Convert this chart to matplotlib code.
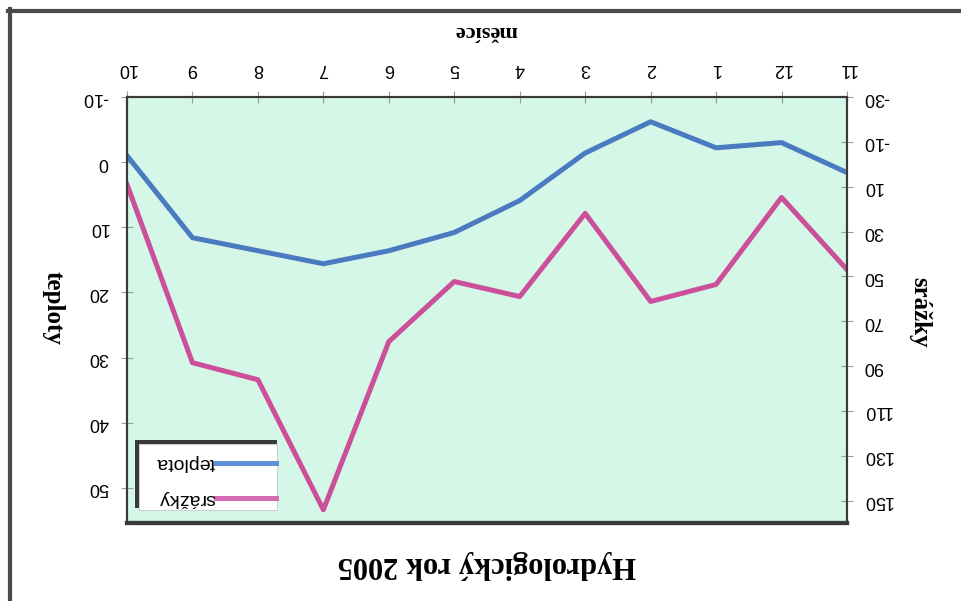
import matplotlib
matplotlib.use("Agg")
import matplotlib.pyplot as plt
from matplotlib.lines import Line2D
from matplotlib.patches import Rectangle

plt.rcParams['axes.unicode_minus'] = False
plt.rcParams['font.family'] = ['Liberation Sans', 'DejaVu Sans']

# hydrologický rok: listopad 2004 .. říjen 2005
mesice = ['11', '12', '1', '2', '3', '4', '5', '6', '7', '8', '9', '10']
teplota = [1.6, -3.0, -2.2, -6.2, -1.4, 5.9, 10.8, 13.6, 15.6, 13.6, 11.6, -1.0]
srazky = [47.0, 14.8, 53.6, 61.2, 21.9, 59.0, 52.3, 79.1, 154.1, 96.1, 88.5, 9.0]

teploty_ticks = [-10, 0, 10, 20, 30, 40, 50]
srazky_ticks = [-30, -10, 10, 30, 50, 70, 90, 110, 130, 150]

BLUE = '#4a7bc0'
PINK = '#cc4f9a'
SERIF = ['Liberation Serif', 'DejaVu Serif']

fig = plt.figure(figsize=(9.61, 6.01), dpi=100)
ax = fig.add_axes([127 / 961, 1 - 523 / 601, 720 / 961, 426 / 601])
ax2 = ax.twinx()

x = list(range(len(mesice)))
ax.plot(x, teplota, color=BLUE, lw=3.6, solid_joinstyle='round')
ax2.plot(x, srazky, color=PINK, lw=3.6, solid_joinstyle='round')

# the whole chart is drawn turned upside down
ax.set_xlim(len(mesice) - 1, 0)
ax.set_ylim(55.4, -10)
ax2.set_ylim(160, -30)

ax.set_xticks(x)
ax.set_xticklabels(mesice)
ax.set_yticks(teploty_ticks)
ax2.set_yticks(srazky_ticks)

ax.set_facecolor('#d4f7e8')
ax.tick_params(axis='x', top=True, bottom=False, labeltop=True, labelbottom=False,
               direction='inout', length=9, color='#9a9a9a', labelsize=13, pad=10)
ax.tick_params(axis='y', direction='inout', length=9, color='#9a9a9a', labelsize=13, pad=9)
ax2.tick_params(axis='y', direction='inout', length=9, color='#9a9a9a', labelsize=13, pad=7)
plt.setp(ax.get_xticklabels(), rotation=180)
plt.setp(ax.get_yticklabels(), rotation=180, va='center')
plt.setp(ax2.get_yticklabels(), rotation=180, va='center')

for a in (ax, ax2):
    for s in a.spines.values():
        s.set_color('#3a3a3a')
        s.set_linewidth(1.5)
    a.spines['bottom'].set_linewidth(3)

# legend box with its shadow on the upper left
def px(xp, yp):
    return (xp - 127) / 720, (523 - yp) / 426

lx0, ly0 = px(139, 510)
lx1, ly1 = px(277, 444)
ax2.add_patch(Rectangle((lx0, ly0), lx1 - lx0, ly1 - ly0, transform=ax2.transAxes,
                        facecolor='white', edgecolor='#d0d0d0', lw=0.8, zorder=5))
sx0, sy0 = px(135, 508)
ax2.add_patch(Rectangle((sx0, sy0), lx0 - sx0, ly1 - sy0, transform=ax2.transAxes,
                        facecolor='#3a3a3a', edgecolor='none', zorder=6))
tx, ty = px(135, 440)
ax2.add_patch(Rectangle((tx, ly1), lx1 - tx, ty - ly1, transform=ax2.transAxes,
                        facecolor='#3a3a3a', edgecolor='none', zorder=6))

for label, color, yp in [('teplota', '#5f8fd6', 463), ('srážky', '#d86cb4', 498)]:
    a0, b = px(216, yp)
    a1, _ = px(276, yp)
    ax2.add_line(Line2D([a0, a1], [b, b], transform=ax2.transAxes, color=color,
                        lw=3.6, zorder=7))
    tx_, _ = px(215, yp)
    ax2.text(tx_, b, label, transform=ax2.transAxes, rotation=180, ha='right',
             va='center', fontsize=14, zorder=7)

# titles
fig.text(487 / 961, 1 - 565 / 601, 'Hydrologický rok 2005', rotation=180,
         ha='center', va='center', fontsize=22, fontweight='bold', family=SERIF)
fig.text(486 / 961, 1 - 31 / 601, 'měsíce', rotation=180,
         ha='center', va='center', fontsize=16, fontweight='bold', family=SERIF)
fig.text(53 / 961, 1 - 308 / 601, 'teploty', rotation=270,
         ha='center', va='center', fontsize=18, fontweight='bold', family=SERIF)
fig.text(920 / 961, 1 - 312 / 601, 'srážky', rotation=270,
         ha='center', va='center', fontsize=18, fontweight='bold', family=SERIF)

# chart border
fig.add_artist(Line2D([8 / 961, 1], [1 - 10.5 / 601, 1 - 10.5 / 601], color='#4a4a4a', lw=3))
fig.add_artist(Line2D([10 / 961, 10 / 961], [0, 1 - 9 / 601], color='#4a4a4a', lw=3))

fig.savefig('out.png', dpi=100)
